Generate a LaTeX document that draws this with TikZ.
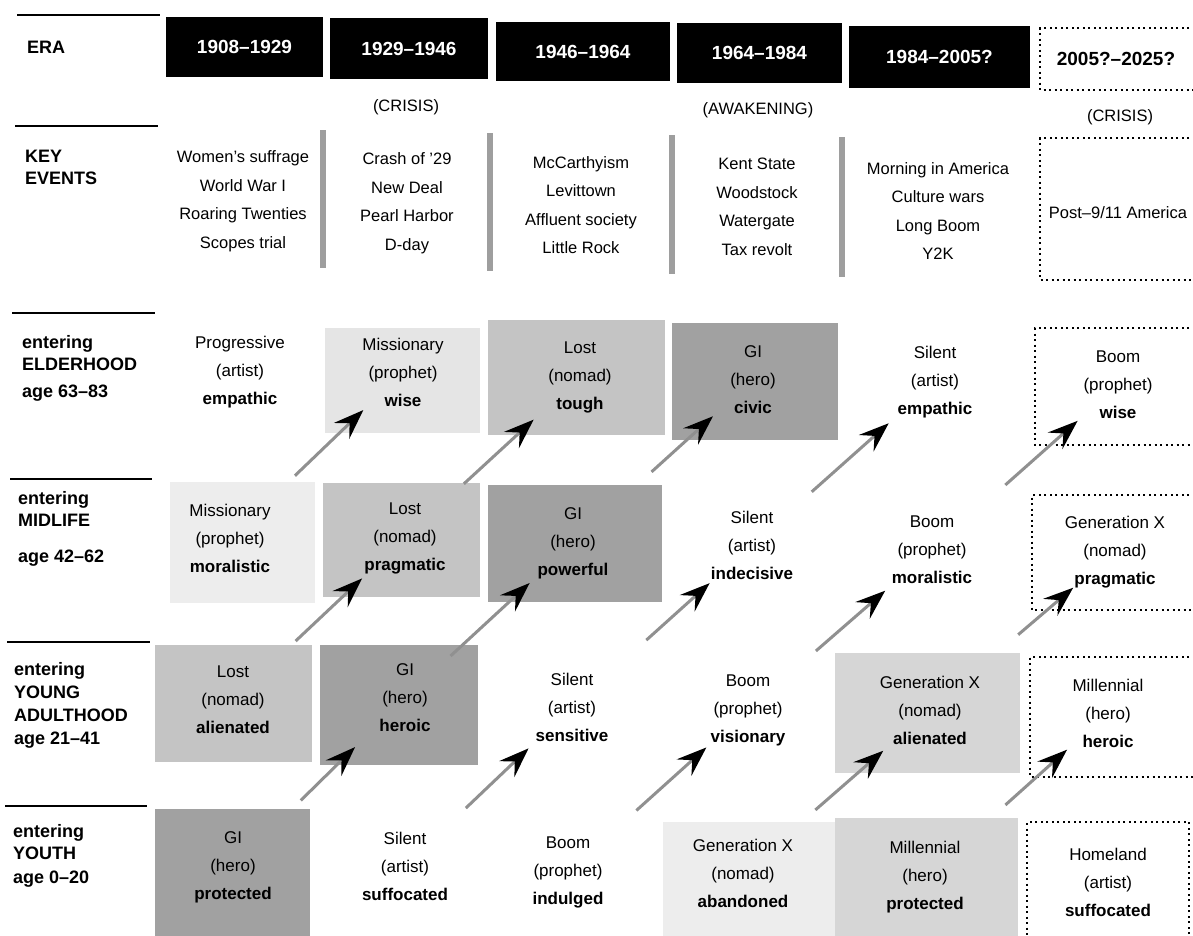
\documentclass[tikz,border=0pt]{standalone}
\usepackage{fontspec}
\setmainfont{Liberation Sans}
\usetikzlibrary{arrows.meta}

% tones of the screened cells
\definecolor{heroTone}{gray}{0.63}
\definecolor{nomadTone}{gray}{0.77}
\definecolor{paleTone}{gray}{0.90}
\definecolor{faintTone}{gray}{0.93}
\definecolor{midTone}{gray}{0.84}
\definecolor{barTone}{gray}{0.62}

\newcommand{\gencell}[3]{#1\\(#2)\\\textbf{#3}}

\tikzset{
  lab/.style={anchor=west, align=left, inner sep=0pt, font=\fontsize{18}{22}\selectfont\bfseries},
  erabox/.style={fill=black, text=white, inner sep=0pt, font=\fontsize{19}{22}\selectfont\bfseries},
  futurelabel/.style={inner sep=0pt, font=\fontsize{19}{22}\selectfont\bfseries},
  phase/.style={inner sep=0pt, font=\fontsize{16.5}{20}\selectfont},
  events/.style={align=center, inner sep=0pt, font=\fontsize{16.5}{28.5}\selectfont},
  gen/.style={align=center, inner sep=0pt, font=\fontsize{17}{28}\selectfont},
  rule/.style={line width=2pt},
  divider/.style={fill=barTone},
  future/.style={line width=2pt, dash pattern=on 2pt off 3.5pt},
  flow/.style={draw=gray!55!black!60, line width=3pt,
    -{Stealth[length=30pt,width=22pt,inset=11pt,color=black]}},
}

\begin{document}
\begin{tikzpicture}[x=1pt, y=-1pt]
\useasboundingbox (0,0) rectangle (1193,935);
\clip (0,0) rectangle (1193,935);
\fill[white] (0,0) rectangle (1193,935);

% ---- row rules on the left
\draw[rule] (17,15) -- (160,15);
\draw[rule] (15,126) -- (158,126);
\draw[rule] (12,313) -- (155,313);
\draw[rule] (10,479) -- (152,479);
\draw[rule] (7,642) -- (150,642);
\draw[rule] (5,806) -- (147,806);

% ---- row labels
\node[lab] (lEra) at (27,47) {ERA};
\node[lab] (lKey) at (25,167) {KEY\\EVENTS};
\node[lab] (lElder) at (22,368) {entering\\ELDERHOOD\\[5pt]age 63–83};
\node[lab] (lMid) at (18,529) {entering\\MIDLIFE\\[14pt]age 42–62};
\node[lab, font=\fontsize{18}{23}\selectfont\bfseries] (lAdult) at (14,705) {entering\\YOUNG\\ADULTHOOD\\age 21–41};
\node[lab] (lYouth) at (13,856) {entering\\YOUTH\\[2pt]age 0–20};

% ---- era boxes
\node[erabox, minimum width=157, minimum height=60] (era1) at (244.5,47) {1908–1929};
\node[erabox, minimum width=158, minimum height=61] (era2) at (409,48.5) {1929–1946};
\node[erabox, minimum width=174, minimum height=59] (era3) at (583,51.5) {1946–1964};
\node[erabox, minimum width=165, minimum height=60] (era4) at (759.5,53) {1964–1984};
\node[erabox, minimum width=181, minimum height=62] (era5) at (939.5,57) {1984–2005?};
\draw[future] (1200,28) -- (1040,28) -- (1040,90) -- (1200,90);
\node[futurelabel] (era6) at (1116,59) {2005?–2025?};

% ---- turnings
\node[phase] (turn2) at (406,107) {(CRISIS)};
\node[phase] (turn4) at (758,110) {(AWAKENING)};
\node[phase] (turn6) at (1120,117) {(CRISIS)};

% ---- key events
\fill[divider] (320,130) rectangle (326,268);
\fill[divider] (487,133) rectangle (493,271);
\fill[divider] (669,135) rectangle (675,274);
\fill[divider] (839,137) rectangle (845,277);
\draw[future] (1200,138) -- (1040,138) -- (1040,280) -- (1200,280);

\node[events] (ev1) at (243,201) {Women’s suffrage\\World War I\\Roaring Twenties\\Scopes trial};
\node[events] (ev2) at (407,203) {Crash of ’29\\New Deal\\Pearl Harbor\\D-day};
\node[events] (ev3) at (581,205) {McCarthyism\\Levittown\\Affluent society\\Little Rock};
\node[events] (ev4) at (757,207) {Kent State\\Woodstock\\Watergate\\Tax revolt};
\node[events] (ev5) at (938,211) {Morning in America\\Culture wars\\Long Boom\\Y2K};
\node[events] (ev6) at (1118,213) {Post–9/11 America};

% ---- screened cells
\fill[paleTone]  (325,328) rectangle (480,433);
\fill[nomadTone] (488,320) rectangle (665,435);
\fill[heroTone]  (672,323) rectangle (838,440);
\fill[faintTone] (170,482) rectangle (315,603);
\fill[nomadTone] (323,483) rectangle (480,597);
\fill[heroTone]  (488,485) rectangle (662,602);
\fill[nomadTone] (155,645) rectangle (312,762);
\fill[heroTone]  (320,645) rectangle (478,765);
\fill[midTone]   (835,653) rectangle (1020,773);
\fill[heroTone]  (155,809) rectangle (310,940);
\fill[faintTone] (663,822) rectangle (838,940);
\fill[nomadTone!70!white] (835,818) rectangle (1018,940);

% ---- frames of the coming era
\draw[future] (1200,328) -- (1035,328) -- (1035,445) -- (1200,445);
\draw[future] (1200,495) -- (1032,495) -- (1032,610) -- (1200,610);
\draw[future] (1200,657) -- (1030,657) -- (1030,777) -- (1200,777);
\draw[future] (1189,945) -- (1189,822) -- (1027,822) -- (1027,945);

% ---- entering elderhood
\node[gen] (e1) at (240,372) {\gencell{Progressive}{artist}{empathic}};
\node[gen] (e2) at (403,372) {\gencell{Missionary}{prophet}{wise}};
\node[gen] (e3) at (580,377) {\gencell{Lost}{nomad}{tough}};
\node[gen] (e4) at (753,380) {\gencell{GI}{hero}{civic}};
\node[gen] (e5) at (935,382) {\gencell{Silent}{artist}{empathic}};
\node[gen] (e6) at (1118,385) {\gencell{Boom}{prophet}{wise}};

% ---- entering midlife
\node[gen] (m1) at (230,538) {\gencell{Missionary}{prophet}{moralistic}};
\node[gen] (m2) at (405,538) {\gencell{Lost}{nomad}{pragmatic}};
\node[gen] (m3) at (573,543) {\gencell{GI}{hero}{powerful}};
\node[gen] (m4) at (752,545) {\gencell{Silent}{artist}{indecisive}};
\node[gen] (m5) at (932,550) {\gencell{Boom}{prophet}{moralistic}};
\node[gen] (m6) at (1115,552) {\gencell{Generation X}{nomad}{pragmatic}};

% ---- entering young adulthood
\node[gen] (a1) at (233,700) {\gencell{Lost}{nomad}{alienated}};
\node[gen] (a2) at (405,698) {\gencell{GI}{hero}{heroic}};
\node[gen] (a3) at (572,707) {\gencell{Silent}{artist}{sensitive}};
\node[gen] (a4) at (748,710) {\gencell{Boom}{prophet}{visionary}};
\node[gen] (a5) at (930,710) {\gencell{Generation X}{nomad}{alienated}};
\node[gen] (a6) at (1108,713) {\gencell{Millennial}{hero}{heroic}};

% ---- entering youth
\node[gen] (y1) at (233,867) {\gencell{GI}{hero}{protected}};
\node[gen] (y2) at (405,866) {\gencell{Silent}{artist}{suffocated}};
\node[gen] (y3) at (568,872) {\gencell{Boom}{prophet}{indulged}};
\node[gen] (y4) at (743,873) {\gencell{Generation X}{nomad}{abandoned}};
\node[gen] (y5) at (925,877) {\gencell{Millennial}{hero}{protected}};
\node[gen] (y6) at (1108,882) {\gencell{Homeland}{artist}{suffocated}};

% ---- each generation moves up one stage of life
\draw[flow, shorten <=95pt, shorten >=70pt] (y1.center) -- (a2.center);
\draw[flow, shorten <=84pt, shorten >=60pt] (y2.center) -- (a3.center);
\draw[flow, shorten <=92pt, shorten >=56pt] (y3.center) -- (a4.center);
\draw[flow, shorten <=96pt, shorten >=62pt] (y4.center) -- (a5.center);
\draw[flow, shorten <=108pt, shorten >=55pt] (y5.center) -- (a6.center);

\draw[flow, shorten <=86pt, shorten >=59pt] (a1.center) -- (m2.center);
\draw[flow, shorten <=62pt, shorten >=59pt] (a2.center) -- (m3.center);
\draw[flow, shorten <=100pt, shorten >=57pt] (a3.center) -- (m4.center);
\draw[flow, shorten <=90pt, shorten >=62pt] (a4.center) -- (m5.center);
\draw[flow, shorten <=116pt, shorten >=55pt] (a5.center) -- (m6.center);

\draw[flow, shorten <=90pt, shorten >=55pt] (m1.center) -- (e2.center);
\draw[flow, shorten <=80pt, shorten >=63pt] (m2.center) -- (e3.center);
\draw[flow, shorten <=106pt, shorten >=54pt] (m3.center) -- (e4.center);
\draw[flow, shorten <=80pt, shorten >=62pt] (m4.center) -- (e5.center);
\draw[flow, shorten <=98pt, shorten >=54pt] (m5.center) -- (e6.center);
\end{tikzpicture}
\end{document}
